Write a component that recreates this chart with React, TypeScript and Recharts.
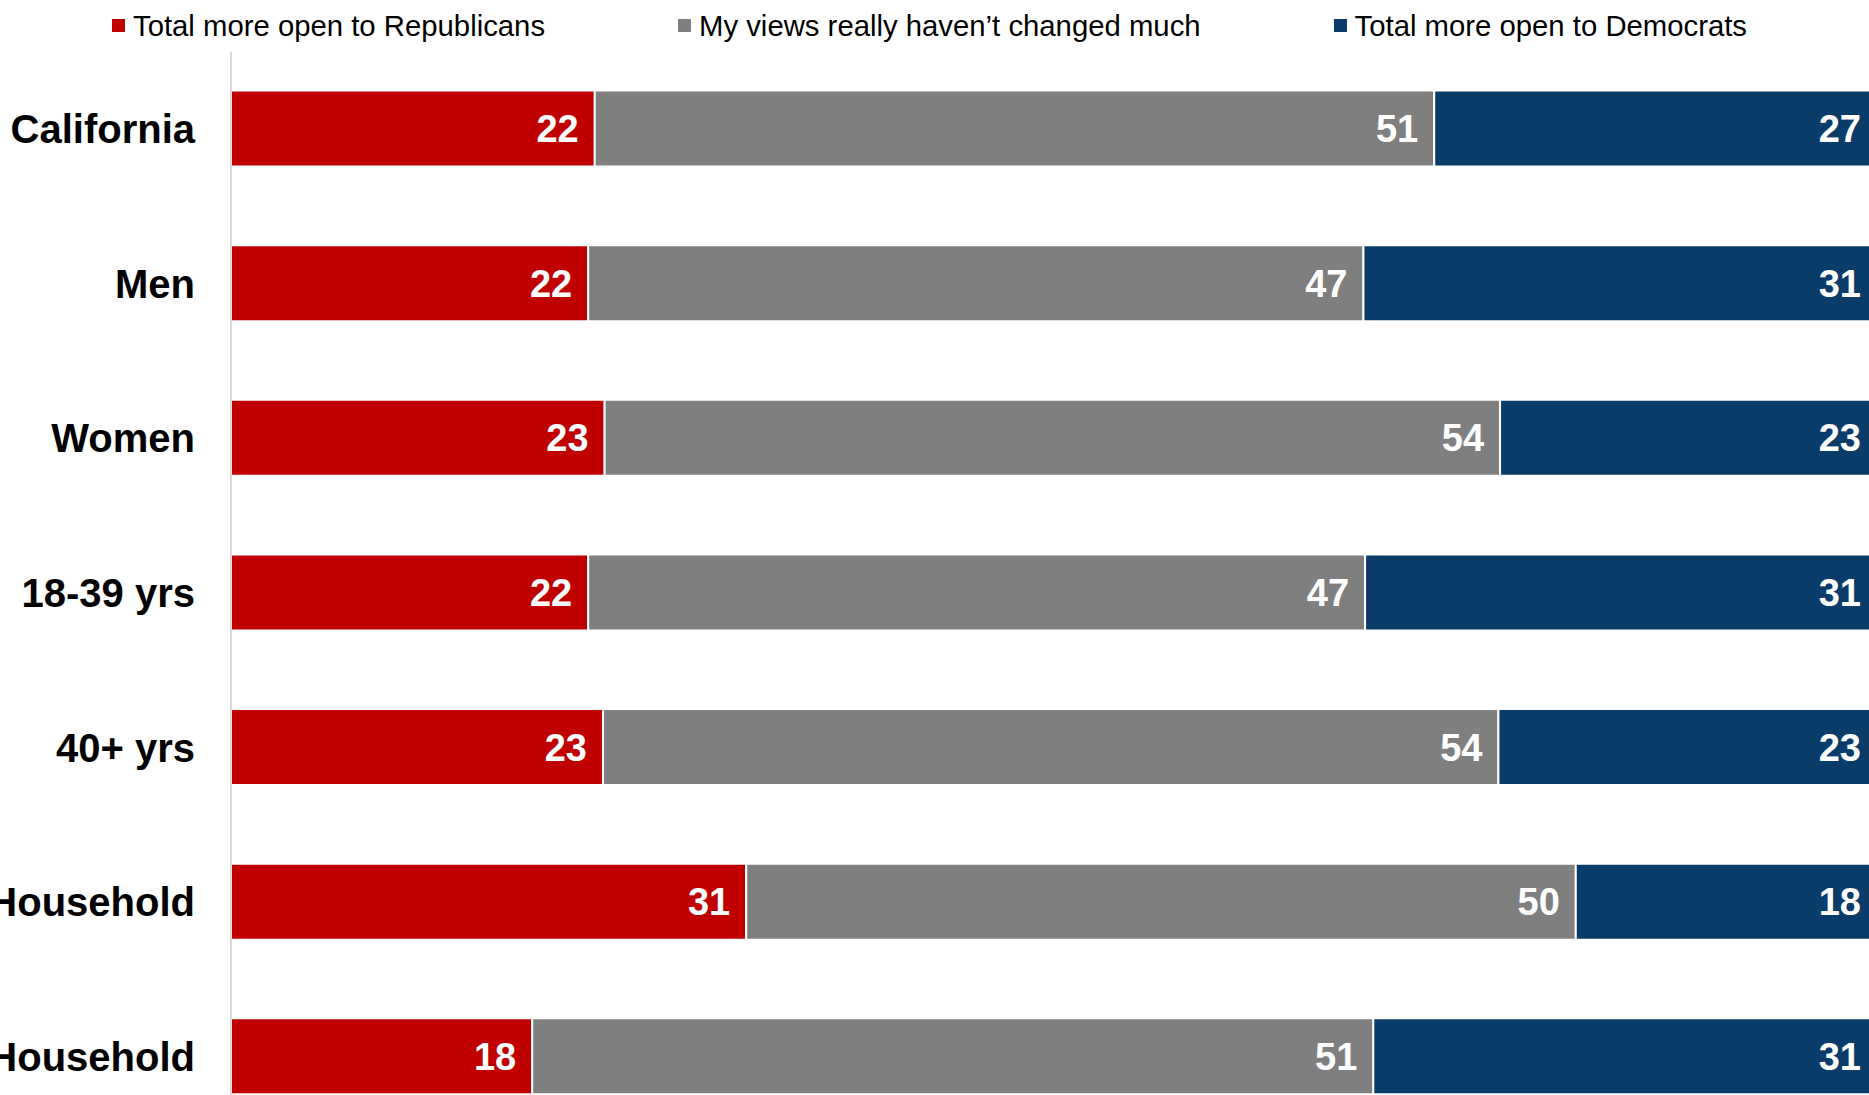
import { Bar, BarChart, LabelList, Legend, XAxis, YAxis } from 'recharts'

// bar lengths; the printed labels are these values rounded
const groups = ['California', 'Men', 'Women', '18-39 yrs', '40+ yrs', 'Household', 'Household']
const republicans = [22.1, 21.7, 22.7, 21.7, 22.6, 31.3, 18.3]
const unchanged = [51.0, 47.1, 54.4, 47.2, 54.4, 50.4, 51.1]
const democrats = [26.9, 31.2, 22.9, 31.1, 23.0, 18.3, 30.6]

const seriesNames = ['Total more open to Republicans', 'My views really haven\u2019t changed much', 'Total more open to Democrats']
const colors = ['#C00000', '#7F7F7F', '#093C69']

const font = '"Liberation Sans", Arial, sans-serif'

const data = groups.map((g, i) => ({
  key: String(i),
  rep: republicans[i],
  same: unchanged[i],
  dem: democrats[i]
}))

function LegendRow() {
  return (
    <div
      style={{
        display: 'flex',
        alignItems: 'center',
        height: 52,
        paddingLeft: 112,
        gap: 133,
        fontFamily: font,
        fontSize: 29.3,
        color: '#000',
        lineHeight: 1
      }}
    >
      {seriesNames.map((name, i) => (
        <div key={name} style={{ display: 'flex', alignItems: 'center' }}>
          <span style={{ width: 13, height: 13, background: colors[i], marginRight: 8, display: 'inline-block' }} />
          <span style={{ whiteSpace: 'nowrap' }}>{name}</span>
        </div>
      ))}
    </div>
  )
}

export default function App() {
  const labelProps = {
    position: 'insideRight' as const,
    offset: 16,
    fill: '#fff',
    fontSize: 38,
    fontWeight: 700,
    fontFamily: font,
    formatter: (v: number) => Math.round(v)
  }

  return (
    <div style={{ position: 'absolute', left: 0, top: 0, width: 1869, height: 1095, overflow: 'hidden', background: '#fff' }}>
      <BarChart
        width={1877}
        height={1134}
        layout='vertical'
        data={data}
        barSize={76}
        margin={{ top: 51.5, right: 0, left: 0, bottom: 0 }}
      >
        <XAxis type='number' domain={[0, 100]} allowDataOverflow hide />
        <YAxis
          type='category'
          dataKey='key'
          width={231}
          axisLine={{ stroke: '#D9D9D9', strokeWidth: 2 }}
          tickLine={false}
          tickSize={0}
          tickMargin={36}
          tickFormatter={(v: string) => groups[Number(v)]}
          tick={{ fill: '#000', fontSize: 40, fontWeight: 700, fontFamily: font }}
        />
        <Legend
          verticalAlign='middle'
          align='center'
          layout='horizontal'
          wrapperStyle={{ top: 0, left: 0, width: 1869 }}
          content={() => <LegendRow />}
        />
        <Bar dataKey='rep' stackId='a' fill={colors[0]} stroke='#fff' strokeWidth={2} isAnimationActive={false}>
          <LabelList dataKey='rep' {...labelProps} />
        </Bar>
        <Bar dataKey='same' stackId='a' fill={colors[1]} stroke='#fff' strokeWidth={2} isAnimationActive={false}>
          <LabelList dataKey='same' {...labelProps} />
        </Bar>
        <Bar dataKey='dem' stackId='a' fill={colors[2]} stroke='#fff' strokeWidth={2} isAnimationActive={false}>
          <LabelList dataKey='dem' {...labelProps} />
        </Bar>
      </BarChart>
    </div>
  )
}
